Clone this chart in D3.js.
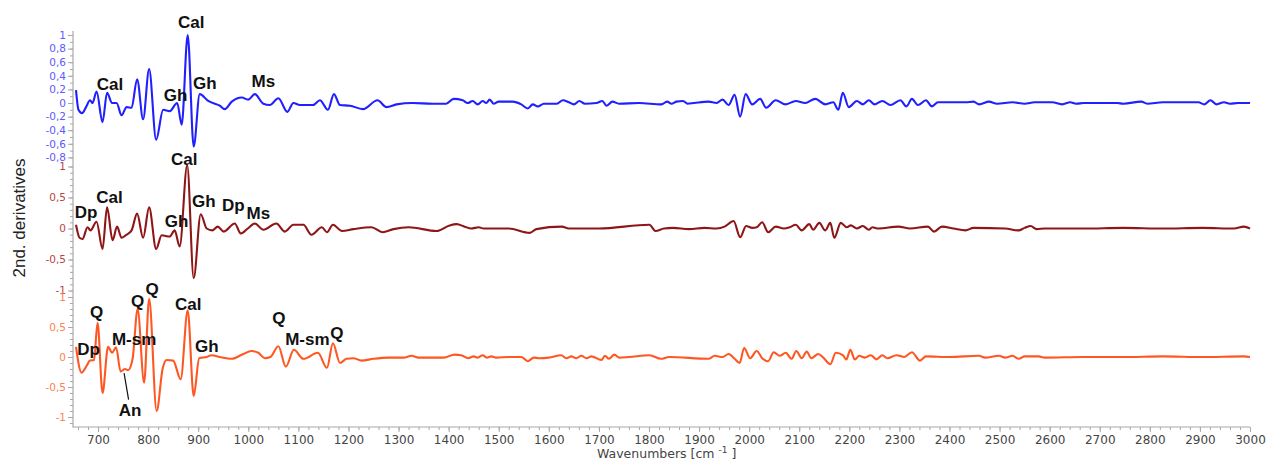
<!DOCTYPE html>
<html>
<head>
<meta charset="utf-8">
<script src="https://cdn.jsdelivr.net/npm/d3@7"></script>
<style>
  html, body { margin: 0; padding: 0; background: #fff; }
  svg { display: block; }
</style>
</head>
<body>
<svg id="chart" width="1270" height="463"></svg>
<script>
// ---------- DATA ----------
// Top spectrum (blue)
const topWn = [656,661,668,676,684,689,697,709,718,728,737,747,757,767,778,790,802,816,830,843,858,867,879,891,903,920,943,953,967,987,1000,1013,1030,1043,1060,1078,1090,1103,1129,1143,1159,1171,1183,1203,1229,1258,1276,1296,1328,1368,1395,1410,1428,1438,1448,1458,1468,1475,1482,1490,1500,1528,1545,1558,1568,1578,1590,1616,1628,1640,1650,1661,1672,1695,1707,1715,1727,1740,1780,1825,1836,1845,1855,1868,1877,1890,1919,1935,1947,1959,1971,1982,1993,2006,2022,2034,2053,2073,2093,2112,2132,2152,2168,2178,2187,2199,2215,2227,2239,2250,2266,2282,2302,2314,2325,2337,2353,2365,2377,2432,2448,2459,2479,2495,2526,2550,2570,2605,2625,2641,2653,2668,2735,2747,2783,2795,2826,2866,2897,2909,2921,2933,2948,2960,2976,3000];
const topVal = [0.19,-0.10,-0.15,-0.06,0.04,0.00,0.17,-0.28,0.15,0.00,0.00,-0.18,-0.06,-0.07,0.35,-0.24,0.50,-0.54,-0.10,-0.12,0.00,-0.32,1.00,-0.64,0.13,0.03,-0.04,-0.09,0.02,0.08,0.05,0.13,-0.01,-0.03,0.07,-0.13,0.00,-0.03,-0.03,0.04,-0.10,0.13,-0.03,-0.04,-0.09,0.04,-0.06,-0.02,0.00,-0.01,-0.01,0.06,0.04,0.00,0.03,-0.02,0.03,0.00,0.05,-0.01,0.02,0.02,-0.02,-0.08,-0.02,-0.05,-0.01,-0.01,0.04,0.01,-0.02,0.03,-0.01,0.00,0.03,-0.04,0.02,-0.01,0.00,-0.02,0.02,-0.01,0.02,0.03,-0.01,0.00,0.02,0.00,0.05,-0.03,0.12,-0.20,0.13,-0.02,0.06,-0.07,0.04,-0.02,0.03,0.00,0.06,-0.02,0.01,-0.10,0.15,-0.06,0.03,-0.02,0.04,-0.02,0.03,-0.03,0.04,-0.05,0.06,-0.03,0.04,-0.05,0.01,0.01,0.02,-0.02,0.02,-0.01,0.01,-0.01,0.01,0.01,-0.02,0.01,-0.01,0.00,0.00,-0.01,0.02,-0.01,0.01,0.01,0.01,-0.02,0.04,-0.02,0.01,-0.01,0.00,0.00];

// Middle spectrum (dark red)
const midWn = [656,663,669,679,685,697,709,718,729,738,747,755,767,778,790,802,816,827,843,853,863,878,891,905,917,928,939,951,973,985,999,1013,1030,1056,1073,1090,1110,1126,1147,1157,1169,1187,1210,1246,1268,1290,1320,1376,1402,1416,1432,1445,1460,1470,1490,1520,1562,1575,1626,1640,1700,1801,1813,1830,1848,1880,1911,1935,1951,1969,1982,1994,2006,2015,2026,2038,2053,2069,2081,2093,2105,2120,2128,2140,2152,2162,2170,2183,2195,2203,2215,2227,2239,2246,2258,2298,2321,2357,2369,2385,2408,2432,2448,2511,2538,2550,2562,2574,2590,2668,2747,2826,2905,2968,2988,3000];
const midVal = [0.06,-0.15,-0.17,0.02,-0.03,0.11,-0.33,0.34,-0.19,0.03,-0.15,-0.11,-0.03,0.24,-0.15,0.34,-0.33,-0.11,-0.13,-0.03,-0.29,1.02,-0.80,0.23,0.00,-0.03,0.03,-0.05,0.08,-0.08,0.00,0.08,-0.02,0.08,-0.05,0.06,0.06,-0.10,0.02,-0.06,0.06,-0.04,-0.01,0.02,-0.06,-0.01,0.02,-0.04,0.05,0.07,0.03,0.00,0.02,0.00,0.00,0.00,-0.07,-0.01,0.03,0.00,0.00,0.06,-0.04,0.00,0.01,-0.01,0.01,0.00,0.03,0.12,-0.14,0.04,0.01,0.02,0.10,-0.06,0.03,0.00,0.02,0.06,-0.03,0.07,-0.02,0.09,-0.03,0.09,-0.15,0.09,0.02,0.05,0.00,0.04,-0.02,0.02,0.00,0.03,0.00,0.03,-0.05,0.03,0.00,-0.03,0.01,0.00,-0.03,0.01,0.04,-0.01,0.00,0.00,0.01,0.00,0.01,0.00,0.03,0.00];

// Bottom spectrum (orange)
const botWn = [656,667,677,684,692,699,709,720,728,736,745,754,760,769,779,792,802,817,829,837,850,865,879,891,902,917,927,943,967,990,1006,1020,1033,1044,1060,1075,1091,1110,1139,1157,1169,1183,1196,1210,1226,1250,1280,1310,1326,1340,1390,1412,1425,1439,1450,1458,1468,1476,1485,1495,1520,1545,1558,1570,1580,1600,1625,1635,1645,1655,1665,1675,1685,1705,1712,1720,1731,1740,1760,1801,1824,1840,1919,1931,1947,1959,1971,1981,1990,2002,2015,2026,2038,2049,2061,2073,2085,2094,2105,2115,2124,2138,2148,2162,2173,2187,2194,2202,2211,2220,2231,2243,2254,2266,2276,2294,2310,2325,2341,2353,2400,2459,2471,2499,2511,2526,2538,2550,2578,2590,2668,2747,2826,2905,2988,3000];
const botVal = [0.17,-0.26,-0.15,-0.06,-0.05,0.57,-0.60,0.17,0.07,0.16,-0.24,-0.20,-0.22,-0.03,0.80,-0.43,0.97,-0.90,-0.19,-0.05,-0.06,-0.37,0.78,-0.65,-0.02,0.00,0.03,0.00,-0.03,0.05,0.10,0.07,-0.02,0.00,0.18,-0.16,0.12,-0.03,0.07,-0.18,0.23,-0.10,-0.03,-0.02,-0.06,-0.03,-0.01,-0.01,0.02,-0.01,-0.01,0.04,0.03,-0.02,0.01,-0.01,0.03,-0.01,0.01,-0.01,0.00,0.00,-0.07,-0.01,-0.02,-0.01,0.03,-0.02,0.01,-0.02,0.02,-0.02,0.01,-0.05,0.02,-0.03,0.04,-0.01,0.00,0.03,-0.03,0.00,-0.03,0.02,0.00,0.05,-0.03,-0.10,0.15,-0.02,0.10,-0.02,-0.07,0.08,0.02,0.07,-0.03,0.10,-0.02,0.09,-0.02,0.05,-0.01,-0.12,0.07,0.03,-0.04,0.12,-0.04,0.02,-0.01,0.03,-0.04,0.03,-0.02,0.03,0.00,0.08,-0.06,0.01,0.00,0.02,-0.01,0.02,-0.01,0.02,-0.03,0.01,0.01,-0.01,0.00,0.00,0.01,0.00,0.01,0.00];

// Tick values
const xTicks = [700,800,900,1000,1100,1200,1300,1400,1500,1600,1700,1800,1900,2000,2100,2200,2300,2400,2500,2600,2700,2800,2900,3000];
const topTicks = [-0.8,-0.6,-0.4,-0.2,0,0.2,0.4,0.6,0.8,1];
const midTicks = [-1,-0.5,0,0.5,1];
const botTicks = [-1,-0.5,0,0.5,1];

// Annotations: [text, wavenumber-ish anchor handled via pixel-free data: x in wavenumbers, y in panel units]
const topLabels = [["Cal", 886, 1.11], ["Cal", 724, 0.19], ["Gh", 855, 0.03], ["Gh", 913, 0.21], ["Ms", 1030, 0.24]];
const midLabels = [["Cal", 872, 1.03], ["Dp", 676, 0.17], ["Cal", 723, 0.41], ["Gh", 857, 0.02], ["Gh", 911, 0.35], ["Dp", 970, 0.28], ["Ms", 1020, 0.15]];
const botLabels = [["Q", 697, 0.65], ["Q", 779, 0.83], ["Q", 808, 1.03], ["Cal", 880, 0.78], ["Dp", 681, 0.03], ["M-sm", 772, 0.2], ["Gh", 917, 0.08], ["Q", 1061, 0.55], ["M-sm", 1118, 0.2], ["Q", 1177, 0.3], ["An", 764, -0.98]];

// ---------- CHART ----------
const svg = d3.select("#chart");
const x = d3.scaleLinear().domain([650, 3000]).range([73, 1250]);
const yTop = d3.scaleLinear().domain([-0.8, 1]).range([157.4, 35]);
const yMid = d3.scaleLinear().domain([-1, 1]).range([290.5, 166.5]);
const yBot = d3.scaleLinear().domain([-1.17, 1]).range([427.2, 297]);

const axisColor = "#a8a8a8";
const fmt = d => String(d).replace(".", ",");
const fontTick = "DejaVu Sans, Verdana, sans-serif";

function minorList(a, b, step) {
  const out = [];
  for (let v = a; v <= b + 1e-9; v += step) out.push(Math.round(v * 100) / 100);
  return out;
}

function yAxis(scale, ticks, minorFrom, minorTo, labelColor) {
  const gMin = svg.append("g").attr("transform", "translate(73,0)")
    .call(d3.axisLeft(scale).tickValues(minorList(minorFrom, minorTo, 0.1)).tickSize(3).tickFormat(""));
  gMin.select(".domain").remove();
  gMin.selectAll("line").attr("stroke", axisColor);
  const g = svg.append("g").attr("transform", "translate(73,0)")
    .call(d3.axisLeft(scale).tickValues(ticks).tickSize(5).tickPadding(2).tickFormat(fmt));
  g.select(".domain").remove();
  g.selectAll("line").attr("stroke", axisColor);
  g.selectAll("text").attr("fill", labelColor).style("font-family", fontTick).style("font-size", "10.5px");
}

const colors = { top: "#1f1fff", mid: "#8e1616", bot: "#ff5722" };
yAxis(yTop, topTicks, -0.8, 1, "#5a5aff");
yAxis(yMid, midTicks, -1, 1, "#b84545");
yAxis(yBot, botTicks, -1.1, 1, "#ff8050");

// axis lines
svg.append("line").attr("x1", 73).attr("x2", 73).attr("y1", 31).attr("y2", 427.5).attr("stroke", axisColor).attr("stroke-width", 1.2);

// x axis
const gxMin = svg.append("g").attr("transform", "translate(0,427)")
  .call(d3.axisBottom(x).tickValues(minorList(660, 3000, 20)).tickSize(3).tickFormat(""));
gxMin.select(".domain").remove();
gxMin.selectAll("line").attr("stroke", axisColor);
const gx = svg.append("g").attr("transform", "translate(0,427)")
  .call(d3.axisBottom(x).tickValues(xTicks).tickSize(5).tickPadding(3).tickFormat(d3.format("d")));
gx.select(".domain").remove();
gx.selectAll("line").attr("stroke", axisColor);
gx.selectAll("text").attr("fill", "#444").style("font-family", fontTick).style("font-size", "12px");
svg.append("line").attr("x1", 73).attr("x2", 1250).attr("y1", 427).attr("y2", 427).attr("stroke", axisColor).attr("stroke-width", 1.2);

// x title
const xt = svg.append("text").attr("x", 597).attr("y", 458)
  .style("font-family", fontTick).style("font-size", "12.5px").attr("fill", "#444");
xt.append("tspan").text("Wavenumbers [cm ");
xt.append("tspan").attr("dy", -5).style("font-size", "9px").text("-1");
xt.append("tspan").attr("dy", 5).text(" ]");

// y title
svg.append("text").attr("transform", "translate(25,218) rotate(-90)")
  .attr("text-anchor", "middle").style("font-family", "Liberation Sans, Arial, sans-serif")
  .style("font-size", "17px").attr("fill", "#222").text("2nd. derivatives");

// lines
function drawLine(wn, val, yScale, color) {
  const pts = wn.map((w, i) => [w, val[i]]);
  const line = d3.line().x(d => x(d[0])).y(d => yScale(d[1])).curve(d3.curveMonotoneX);
  svg.append("path").datum(pts).attr("d", line).attr("fill", "none")
    .attr("stroke", color).attr("stroke-width", 2.1).attr("stroke-linejoin", "round");
}
drawLine(topWn, topVal, yTop, colors.top);
drawLine(midWn, midVal, yMid, colors.mid);
drawLine(botWn, botVal, yBot, colors.bot);

// labels
function drawLabels(list, yScale) {
  list.forEach(([t, w, v]) => {
    svg.append("text").attr("x", x(w)).attr("y", yScale(v)).attr("text-anchor", "middle")
      .style("font-family", "Liberation Sans, Arial, sans-serif").style("font-weight", "bold")
      .style("font-size", "17px").attr("fill", "#111").text(t);
  });
}
drawLabels(topLabels, yTop);
drawLabels(midLabels, yMid);
drawLabels(botLabels, yBot);

// An pointer line
svg.append("line").attr("x1", x(752)).attr("y1", yBot(-0.27)).attr("x2", x(761)).attr("y2", yBot(-0.71))
  .attr("stroke", "#111").attr("stroke-width", 1.2);
</script>
</body>
</html>
